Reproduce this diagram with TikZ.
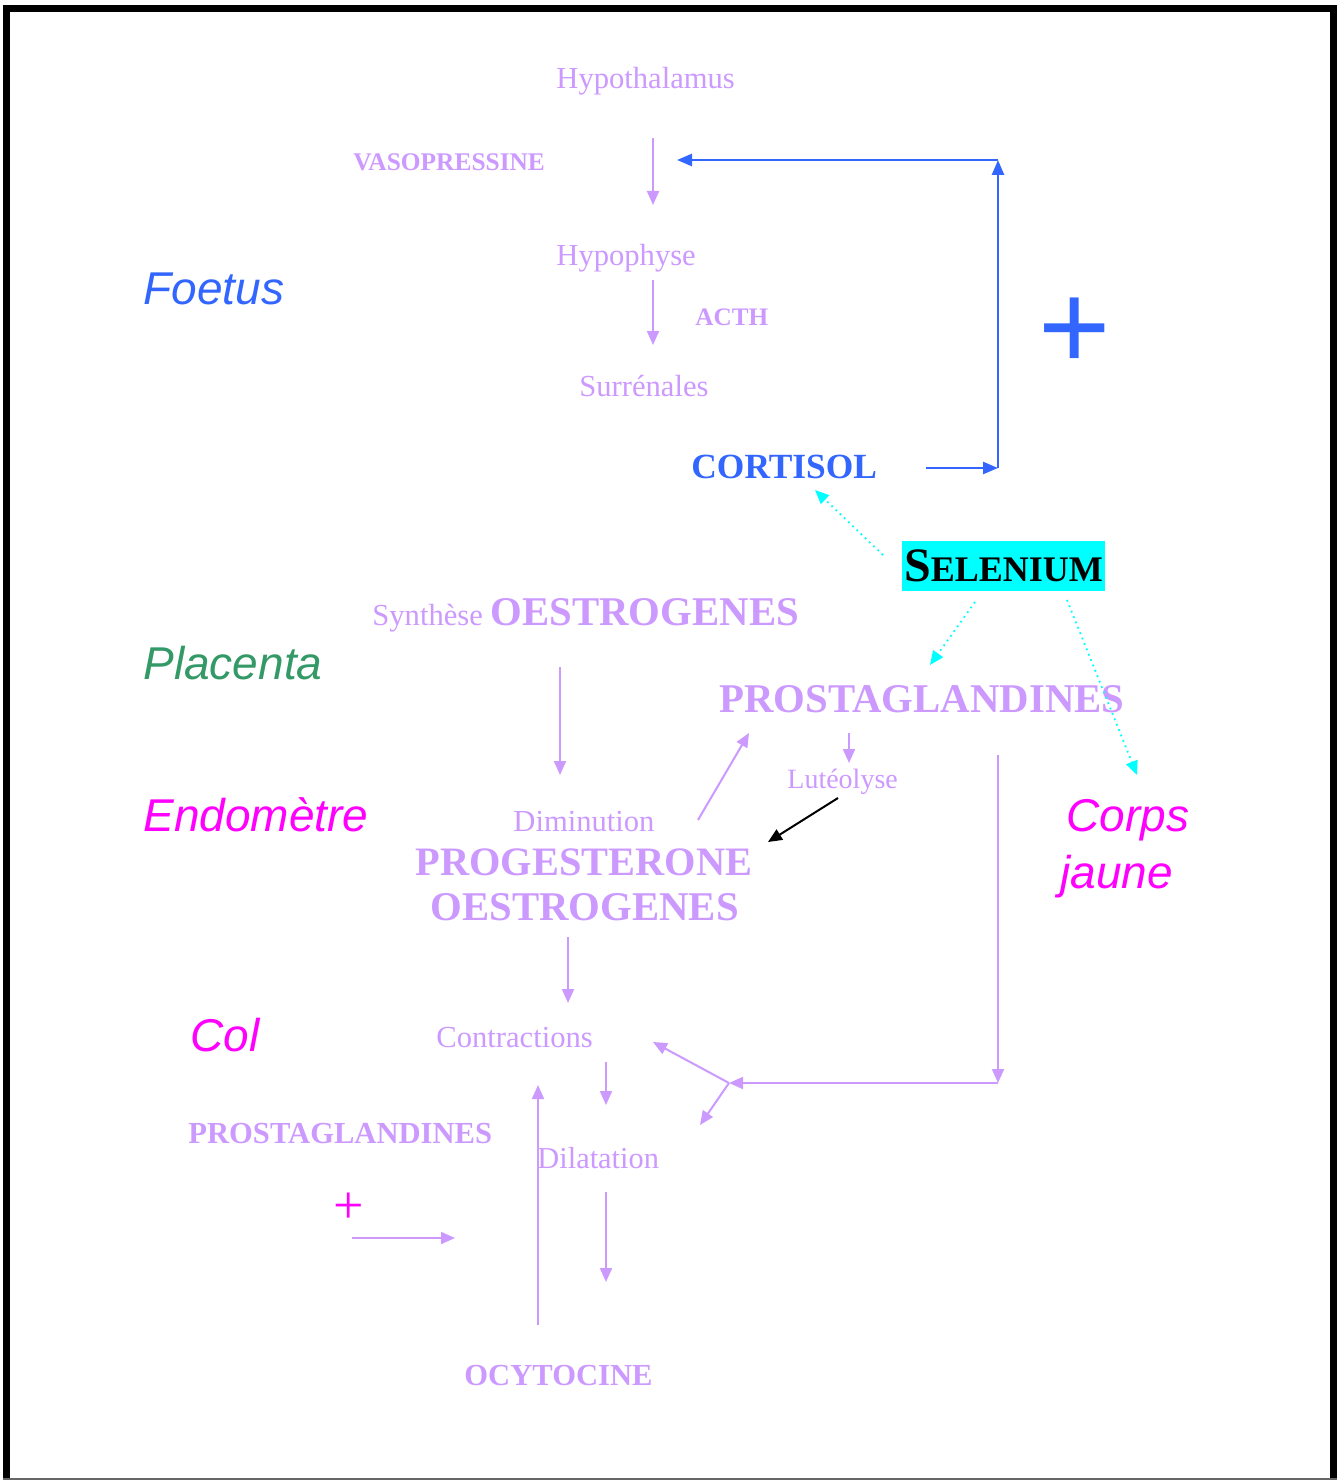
\documentclass[tikz,border=0pt]{standalone}
\usepackage{fontspec}
\setmainfont{Liberation Serif}
\newfontfamily\organfont{Liberation Sans}
\usetikzlibrary{arrows.meta,%
                positioning%
              }
\definecolor{lila}{RGB}{204,153,255}
\definecolor{bleu}{RGB}{51,102,255}
\definecolor{magen}{RGB}{255,0,255}
\definecolor{vert}{RGB}{51,153,102}
\definecolor{cyanfond}{RGB}{0,255,255}
\newcommand{\fs}[1]{\fontsize{#1}{1.2\dimexpr#1pt\relax}\selectfont}
% end points of the arrows: name/x/y (pixels)
\def\arrowpoints{vasoA/653/138, vasoB/653/205, acthA/653/280, acthB/653/345,
  cortA/926/468, fbR/998/468, fbT/998/160, fbL/677/160,
  seC/883/555, cortT/815/490, seP/975/602, prosT/930/665,
  seJ/1067/600, corpsT/1137/775, oesA/560/667, oesB/560/775,
  dimA/698/820, prosB/749/733, lutA/849/733, lutB/849/763,
  lutC/838/798, progT/768/842, pgA/998/755, pgB/998/1083,
  fork/729/1083, contrR/653/1042, dilR/700/1125,
  contrA/568/937, contrB/568/1003, dilA/606/1062, dilB/606/1105,
  ocyA/538/1325, ocyB/538/1085, dilC/606/1192, dilD/606/1282,
  colA/352/1238, colB/455/1238}
\begin{document}
\begin{tikzpicture}[x=0.5pt,y=-0.5pt,
    txt/.style={anchor=base west,inner sep=0pt,text=lila},
    organ/.style={anchor=base west,inner sep=0pt,
      font=\organfont\itshape\fs{23}},
    lilarr/.style={draw=lila,line width=1pt,
      -{Triangle[length=7pt,width=6pt]}},
    bluarr/.style={draw=bleu,line width=1.3pt,
      -{Triangle[length=7.5pt,width=6pt]}},
    cyanarr/.style={draw=cyanfond,dotted,line width=0.9pt,
      -{Triangle[length=7pt,width=6pt]}}]

    \useasboundingbox (0,0) rectangle (1339,1482);

    %% FRAME
    \draw[line width=3.5pt] (6.5,1479) -- (6.5,8.5) -- (1333.5,8.5) -- (1333.5,1479);
    \draw[line width=1pt,black!60] (3,1479) -- (1337,1479);

    %% ORGANS
    \node[organ,text=bleu]  (foetus)   at (143,304)  {Foetus};
    \node[organ,text=vert]  (placenta) at (143,679)  {Placenta};
    \node[organ,text=magen] (endom)    at (143,831)  {Endomètre};
    \node[organ,text=magen] (corps)    at (1066,831) {Corps};
    \node[organ,text=magen] (jaune)    at (1060,888) {jaune};
    \node[organ,text=magen] (col)      at (190,1051) {Col};

    %% FOETUS AXIS
    \node[txt,font=\fs{15.3}] (hypoth) at (556,89)  {Hypothalamus};
    \node[txt,font=\bfseries\fs{12.7}] (vaso) at (353,171) {VASOPRESSINE};
    \node[txt,font=\fs{15.3}] (hypoph) at (556,265) {Hypophyse};
    \node[txt,font=\bfseries\fs{12.6}] (acth) at (695,325) {ACTH};
    \node[txt,font=\fs{15.3}] (surren) at (579,396) {Surrénales};
    \node[txt,text=bleu,font=\bfseries\fs{17.7}] (cortisol) at (691,478) {CORTISOL};
    \node[font=\organfont\fs{62},text=bleu,inner sep=0pt] (plusfb) at (1075,334) {+};

    \node[fill=cyanfond,inner sep=0pt,minimum width=101.5pt,minimum height=25pt,
      font=\bfseries] (selen) at (1003.5,566) {{\fs{24}S}{\fs{18}ELENIUM}};

    %% PLACENTA / ENDOMETRE
    \node[txt,font=\fs{15.3}] (synth) at (372,625)
      {Synthèse {\bfseries\fs{20.4}OESTROGENES}};
    \node[txt,font=\bfseries\fs{20.4}] (prosta) at (719,712) {PROSTAGLANDINES};
    \node[txt,font=\fs{14}] (luteo) at (787,788) {Lutéolyse};
    \node[txt,font=\fs{15.3}] (dimin) at (513,831) {Diminution};
    \node[txt,font=\bfseries\fs{20.2}] (proges) at (415,875) {PROGESTERONE};
    \node[txt,font=\bfseries\fs{20.4}] (oestro) at (430,920) {OESTROGENES};

    %% COL
    \node[txt,font=\fs{15.3}] (contr) at (436,1047) {Contractions};
    \node[txt,font=\bfseries\fs{15.3}] (prostb) at (188,1143) {PROSTAGLANDINES};
    \node[txt,font=\fs{15.2}] (dilat) at (537,1168) {Dilatation};
    \node[font=\fs{27},text=magen,inner sep=0pt] (pluscol) at (349,1208) {+};
    \node[txt,font=\bfseries\fs{15.3}] (ocyto) at (464,1385) {OCYTOCINE};

    %% ARROWS
    \foreach \n/\x/\y in \arrowpoints {%
      \coordinate (\n) at (\x,\y);%
    }

    \draw[lilarr] (vasoA) -- (vasoB);
    \draw[lilarr] (acthA) -- (acthB);
    \draw[bluarr] (cortA) -- (fbR);
    \draw[bluarr] (fbR) -- (fbT);
    \draw[bluarr] (fbT) -- (fbL);

    \draw[cyanarr] (seC) -- (cortT);
    \draw[cyanarr] (seP) -- (prosT);
    \draw[cyanarr] (seJ) -- (corpsT);

    \draw[lilarr] (oesA) -- (oesB);
    \draw[lilarr] (dimA) -- (prosB);
    \draw[lilarr] (lutA) -- (lutB);
    \draw[black,line width=1pt,-{Triangle[length=7pt,width=6pt]}] (lutC) -- (progT);
    \draw[lilarr] (pgA) -- (pgB);
    \draw[lilarr] (pgB) -- (fork);
    \draw[lilarr] (fork) -- (contrR);
    \draw[lilarr] (fork) -- (dilR);

    \draw[lilarr] (contrA) -- (contrB);
    \draw[lilarr] (dilA) -- (dilB);
    \draw[lilarr] (ocyA) -- (ocyB);
    \draw[lilarr] (dilC) -- (dilD);
    \draw[lilarr] (colA) -- (colB);

  \end{tikzpicture}
\end{document}
